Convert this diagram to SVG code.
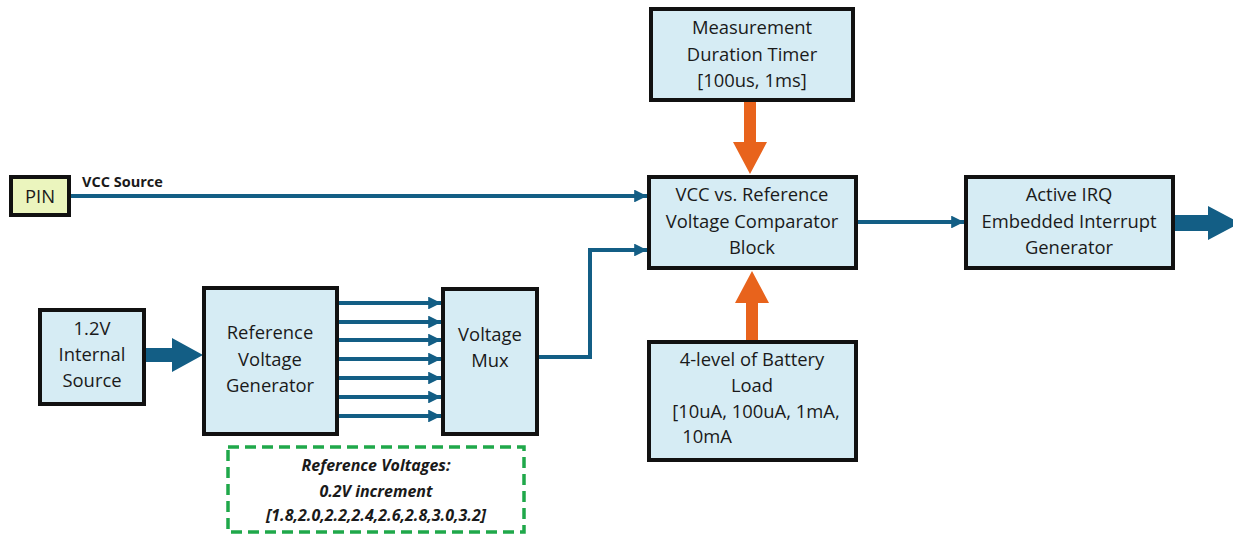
<svg xmlns="http://www.w3.org/2000/svg" width="1233" height="536" viewBox="0 0 1233 536">
<style>
.box{fill:#D6ECF4;stroke:#111;stroke-width:4}
.t{font-family:"Open Sans","Liberation Sans",sans-serif;font-size:18.4px;fill:#1a1a1a;text-anchor:middle}
.ln{stroke:#135E85;stroke-width:4;fill:none}
.hd{fill:#135E85}
.or{fill:#E8631C}
.g{font-family:"Open Sans","Liberation Sans",sans-serif;font-size:16px;font-weight:bold;font-style:italic;fill:#1a1a1a;text-anchor:middle}
</style>
<defs>
<marker id="ah" viewBox="0 0 10 10" refX="10" refY="5" markerWidth="3.2" markerHeight="3.2" markerUnits="strokeWidth" orient="auto"><path d="M0,0 L10,5 L0,10 z" fill="#135E85"/></marker>
</defs>
<g id="connectors">
<line class="ln" x1="70" y1="196" x2="647" y2="196" marker-end="url(#ah)"/>
<polyline class="ln" points="537,357 590,357 590,250 647,250" marker-end="url(#ah)"/>
<line class="ln" x1="856" y1="222" x2="964" y2="222" marker-end="url(#ah)"/>
<line class="ln" x1="338" y1="303" x2="441" y2="303" marker-end="url(#ah)"/>
<line class="ln" x1="338" y1="322" x2="441" y2="322" marker-end="url(#ah)"/>
<line class="ln" x1="338" y1="340" x2="441" y2="340" marker-end="url(#ah)"/>
<line class="ln" x1="338" y1="359" x2="441" y2="359" marker-end="url(#ah)"/>
<line class="ln" x1="338" y1="378" x2="441" y2="378" marker-end="url(#ah)"/>
<line class="ln" x1="338" y1="397" x2="441" y2="397" marker-end="url(#ah)"/>
<line class="ln" x1="338" y1="416" x2="441" y2="416" marker-end="url(#ah)"/>
<polygon class="hd" points="146,348 172,348 172,338 203,355 172,372 172,362 146,362"/>
<polygon class="hd" points="1175,215 1208,215 1208,206 1240,223 1208,240 1208,231 1175,231"/>
<polygon class="or" points="744,102 756,102 756,142 767,142 750,174 733,142 744,142"/>
<polygon class="or" points="746,340 758,340 758,303 769,303 752,271 735,303 746,303"/>
</g>
<g id="pin">
<rect x="11" y="177" width="58" height="38" fill="#EBF5BE" stroke="#111" stroke-width="4"/>
<text class="t" x="40" y="203">PIN</text>
</g>
<text x="82" y="187" style="font-family:'Open Sans','Liberation Sans',sans-serif;font-size:14.5px;font-weight:bold;fill:#1a1a1a">VCC Source</text>
<g id="measurement">
<rect class="box" x="651" y="9" width="202" height="91"/>
<text class="t" x="752" y="34">Measurement</text>
<text class="t" x="752" y="61">Duration Timer</text>
<text class="t" x="752" y="87">[100us, 1ms]</text>
</g>
<g id="comparator">
<rect class="box" x="649" y="177" width="207" height="91"/>
<text class="t" x="752" y="201">VCC vs. Reference</text>
<text class="t" x="752" y="228">Voltage Comparator</text>
<text class="t" x="752" y="254">Block</text>
</g>
<g id="irq">
<rect class="box" x="966" y="177" width="207" height="91"/>
<text class="t" x="1069" y="201">Active IRQ</text>
<text class="t" x="1069" y="228">Embedded Interrupt</text>
<text class="t" x="1069" y="254">Generator</text>
</g>
<g id="battery">
<rect class="box" x="649" y="342" width="207" height="118"/>
<text class="t" x="752" y="366">4-level of Battery</text>
<text class="t" x="752" y="392">Load</text>
<text class="t" x="756" y="418">[10uA, 100uA, 1mA,</text>
<text class="t" x="707" y="443">10mA</text>
</g>
<g id="internal-source">
<rect class="box" x="40" y="310" width="104" height="94"/>
<text class="t" x="92" y="335">1.2V</text>
<text class="t" x="92" y="361">Internal</text>
<text class="t" x="92" y="387">Source</text>
</g>
<g id="ref-gen">
<rect class="box" x="204" y="288" width="133" height="146"/>
<text class="t" x="270" y="339">Reference</text>
<text class="t" x="270" y="366">Voltage</text>
<text class="t" x="270" y="392">Generator</text>
</g>
<g id="mux">
<rect class="box" x="443" y="289" width="94" height="145"/>
<text class="t" x="490" y="341">Voltage</text>
<text class="t" x="490" y="367">Mux</text>
</g>
<g id="ref-voltages">
<rect x="228" y="447" width="296" height="85" fill="none" stroke="#1FA84A" stroke-width="3.5" stroke-dasharray="11,6"/>
<text class="g" x="376" y="471">Reference Voltages:</text>
<text class="g" x="376" y="497">0.2V increment</text>
<text class="g" x="376" y="521">[1.8,2.0,2.2,2.4,2.6,2.8,3.0,3.2]</text>
</g>
</svg>
